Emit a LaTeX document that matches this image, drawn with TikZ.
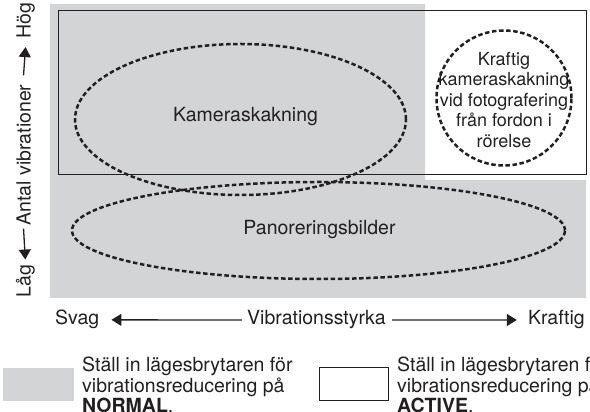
\documentclass[tikz,border=0pt]{standalone}
\usepackage{fontspec}
\setmainfont{TeX Gyre Heros}
\usetikzlibrary{arrows.meta,shapes.geometric}
\definecolor{vrgray}{RGB}{211,212,214}
\definecolor{ink}{RGB}{35,31,32}
\begin{document}
\begin{tikzpicture}[x=1pt,y=1pt,
  dotline/.style={draw=ink, line width=2.5pt, dash pattern=on 4.5pt off 2.6pt},
  axarrow/.style={draw=ink, line width=1.3pt, -{Triangle[length=10pt,width=12pt]}},
  lbl/.style={font=\fontsize{19.5}{20.5}\selectfont, text=ink, inner sep=0pt},
  circtxt/.style={font=\fontsize{18}{20.5}\selectfont, text=ink, inner sep=0pt, align=center},
  zone/.style={ellipse, dotline, inner sep=0pt},
]
\useasboundingbox (0,0) rectangle (590,412);
% NORMAL region (gray)
\fill[vrgray] (50,408) -- (425,408) -- (425,232) -- (586,232) -- (586,114) -- (50,114) -- cycle;
% ACTIVE region (outlined)
\node[draw=ink, line width=1.9pt, minimum width=528pt, minimum height=164pt, inner sep=0pt, anchor=south west] (activebox) at (57.5,236.5) {};
% zones
\node[zone, minimum width=331pt, minimum height=151pt] (kam) at (240.5,292.5) {};
\node[lbl] (kamtxt) at (245.5,295) {Kameraskakning};
\node[zone, minimum width=493pt, minimum height=97pt] (pan) at (318.5,181.5) {};
\node[lbl] (pantxt) at (319.5,182) {Panoreringsbilder};
\node[circle, dotline, minimum size=135pt, inner sep=0pt] (kraft) at (504,314) {};
\node[circtxt] (krafttxt) at (504,312) {Kraftig\\kameraskakning\\vid fotografering\\från fordon i\\rörelse};
% horizontal axis
\node[lbl, anchor=base west] (svag) at (55,87) {Svag};
\node[lbl, anchor=base] (vib) at (316.5,87) {Vibrationsstyrka};
\node[lbl, anchor=base east] (kraftig) at (585,87) {Kraftig};
\draw[axarrow] ([xshift=-5pt]vib.west) -- ([xshift=12pt]svag.east);
\draw[axarrow] ([xshift=6pt]vib.east) -- ([xshift=-11pt]kraftig.west);
% vertical axis
\node[lbl, rotate=90, anchor=base] (antal) at (30.5,257) {Antal vibrationer};
\node[lbl, rotate=90, anchor=base] (hog) at (30.5,391) {Hög};
\node[lbl, rotate=90, anchor=base] (lag) at (30.5,131) {Låg};
\draw[axarrow] ([yshift=9pt]antal.east) -- ([yshift=-8pt]hog.west);
\draw[axarrow] ([yshift=-3pt]antal.west) -- ([yshift=5pt]lag.east);
% legend
\node[fill=vrgray, minimum width=71pt, minimum height=33pt, inner sep=0pt, anchor=south west] (normalkey) at (3,11) {};
\node[draw=ink, line width=1.6pt, minimum width=69pt, minimum height=33pt, inner sep=0pt, anchor=south west] (activekey) at (318.5,10.5) {};
\node[lbl, anchor=base west, align=left] (normaltxt) at (82,-1) {Ställ in lägesbrytaren för\\vibrationsreducering på\\\textbf{NORMAL}.};
\node[lbl, anchor=base west, align=left] (activetxt) at (397,-1) {Ställ in lägesbrytaren för\\vibrationsreducering på\\\textbf{ACTIVE}.};
\end{tikzpicture}
\end{document}
